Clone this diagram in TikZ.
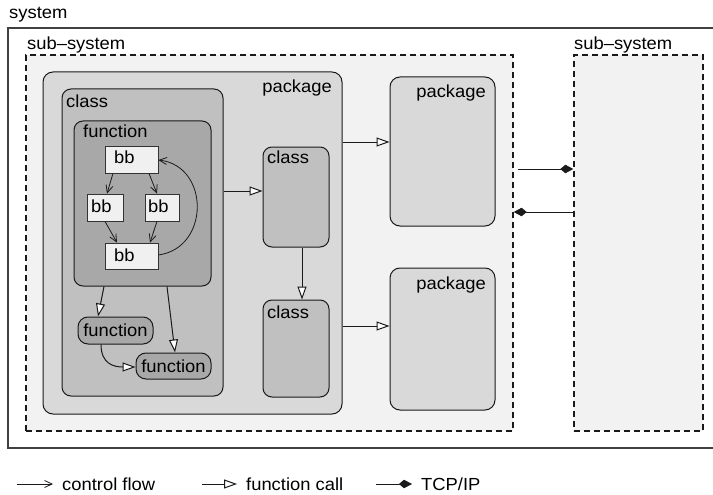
\documentclass[tikz,border=0pt]{standalone}
\usepackage{fontspec}
\setmainfont[FakeStretch=1.05]{Liberation Sans}
\usetikzlibrary{arrows.meta,fit}
\definecolor{subfill}{HTML}{F2F2F2}
\definecolor{pkgfill}{HTML}{D9D9D9}
\definecolor{clsfill}{HTML}{C0C0C0}
\definecolor{funfill}{HTML}{A8A8A8}
\definecolor{bbfill}{HTML}{F0F0F0}
\definecolor{edge}{HTML}{1A1A1A}
\tikzset{
  frame/.style={draw=edge, line width=1pt, inner sep=0pt},
  sysbox/.style={frame, draw=black!75, line width=1.4pt},
  subbox/.style={frame, line width=1.3pt, fill=subfill, dash pattern=on 6pt off 4pt},
  pkgbox/.style={frame, fill=pkgfill, rounded corners=10pt},
  clsbox/.style={frame, fill=clsfill, rounded corners=9pt},
  funbox/.style={frame, fill=funfill, rounded corners=9pt},
  fnpill/.style={frame, fill=funfill, rounded corners=10pt},
  bbbox/.style={frame, draw=black!80, line width=0.8pt, fill=bbfill},
  lbl/.style={inner sep=0pt, text=black},
  ctrl/.style={draw=edge, line width=0.8pt, -{Straight Barb[length=7.5pt,width=7pt]}},
  call/.style={draw=edge, line width=1pt, -{Triangle[length=13pt,width=9pt,fill=white]}},
  tcp/.style={draw=edge, line width=1pt, -{Kite[length=13pt,width=8.5pt,inset=5pt]}}
}
\begin{document}
\begin{tikzpicture}[x=1pt, y=-1pt, font=\fontsize{17.5}{19}\selectfont]
\useasboundingbox (0,0) rectangle (713,495);

% outer system frame (open to the right)
\node[sysbox, fit={(8,28) (722,448)}] (sys) {};
\node[lbl, anchor=base west] (tSys) at (9,19) {system};

% sub-systems
\node[subbox, fit={(26,55) (513,431)}] (sub1) {};
\node[lbl, anchor=base west] (tSub1) at (27,50) {sub–system};
\node[subbox, fit={(574,55) (703,431)}] (sub2) {};
\node[lbl, anchor=base west] (tSub2) at (574,50) {sub–system};

% main package
\node[pkgbox, fit={(43,72) (342,414)}] (pkgA) {};
\node[lbl, anchor=base east] (tPkgA) at (332,93) {package};

% class holding a function
\node[clsbox, fit={(62,89) (223,396)}] (clsA) {};
\node[lbl, anchor=base west] (tClsA) at (66,107) {class};
\node[funbox, fit={(74,121) (211,286)}] (funA) {};
\node[lbl, anchor=base west] (tFunA) at (83,137) {function};

% basic blocks
\node[bbbox, fit={(105,146) (158,173)}] (bb1) {};
\node[lbl, anchor=base west] (tBb1) at (114,164) {bb};
\node[bbbox, fit={(87,194) (123,221)}] (bb2) {};
\node[lbl, anchor=base west] (tBb2) at (91,212) {bb};
\node[bbbox, fit={(145,194) (179,221)}] (bb3) {};
\node[lbl, anchor=base west] (tBb3) at (148,212) {bb};
\node[bbbox, fit={(105,243) (158,269)}] (bb4) {};
\node[lbl, anchor=base west] (tBb4) at (114,261) {bb};

% called functions
\node[fnpill, fit={(78,317) (153,344)}] (fn1) {};
\node[lbl] (tFn1) at (fn1.center) {function};
\node[fnpill, fit={(136,353) (211,379)}] (fn2) {};
\node[lbl] (tFn2) at (fn2.center) {function};

% further classes
\node[clsbox, fit={(263,147) (329,247)}] (clsB) {};
\node[lbl, anchor=base west] (tClsB) at (267,164) {class};
\node[clsbox, fit={(263,300) (329,397)}] (clsC) {};
\node[lbl, anchor=base west] (tClsC) at (267,318) {class};

% further packages
\node[pkgbox, fit={(390,77) (495,226)}] (pkgB) {};
\node[lbl, anchor=base east] (tPkgB) at (486,98) {package};
\node[pkgbox, fit={(390,268) (495,410)}] (pkgC) {};
\node[lbl, anchor=base east] (tPkgC) at (486,289) {package};

% control flow between basic blocks
\draw[ctrl] (bb1.south -| 113,0) -- (bb2.north -| 107,0);
\draw[ctrl] (bb1.south -| 149,0) -- (bb3.north -| 157,0);
\draw[ctrl] (bb2.south -| 105,0) -- (bb4.north -| 117,0);
\draw[ctrl] (bb3.south -| 157,0) -- (bb4.north -| 150,0);
\draw[ctrl] (bb4.east |- 0,255) .. controls (210,248) and (210,166) .. (bb1.east |- 0,160);

% function calls
\draw[call] (funA.south -| 104,0) -- (fn1.north -| 98,0);
\draw[call] (funA.south -| 167,0) -- (fn2.north -| 175,0);
\draw[call] (fn1.south -| 101,0) .. controls (101,364) and (114,367) .. (fn2.west |- 0,367);
\draw[call] (clsA.east |- 0,191) -- (clsB.west |- 0,191);
\draw[call] (clsB.south -| 302,0) -- (clsC.north -| 302,0);
\draw[call] (pkgA.east |- 0,142) -- (pkgB.west |- 0,142);
\draw[call] (pkgA.east |- 0,326) -- (pkgC.west |- 0,326);

% TCP/IP links between sub-systems
\draw[tcp] ([xshift=4pt]sub1.east |- 0,169) -- (sub2.west |- 0,169);
\draw[tcp] (sub2.west |- 0,212) -- (sub1.east |- 0,212);

% legend
\coordinate (lgA1) at (17,484);
\coordinate (lgA2) at (53,484);
\coordinate (lgB1) at (202,484);
\coordinate (lgB2) at (237,484);
\coordinate (lgC1) at (376,484);
\coordinate (lgC2) at (412,484);
\draw[ctrl] (lgA1) -- (lgA2);
\draw[call] (lgB1) -- (lgB2);
\draw[tcp] (lgC1) -- (lgC2);
\node[lbl, anchor=base west] (tLgA) at (62,490) {control flow};
\node[lbl, anchor=base west] (tLgB) at (246,490) {function call};
\node[lbl, anchor=base west] (tLgC) at (421,490) {TCP/IP};
\end{tikzpicture}
\end{document}
